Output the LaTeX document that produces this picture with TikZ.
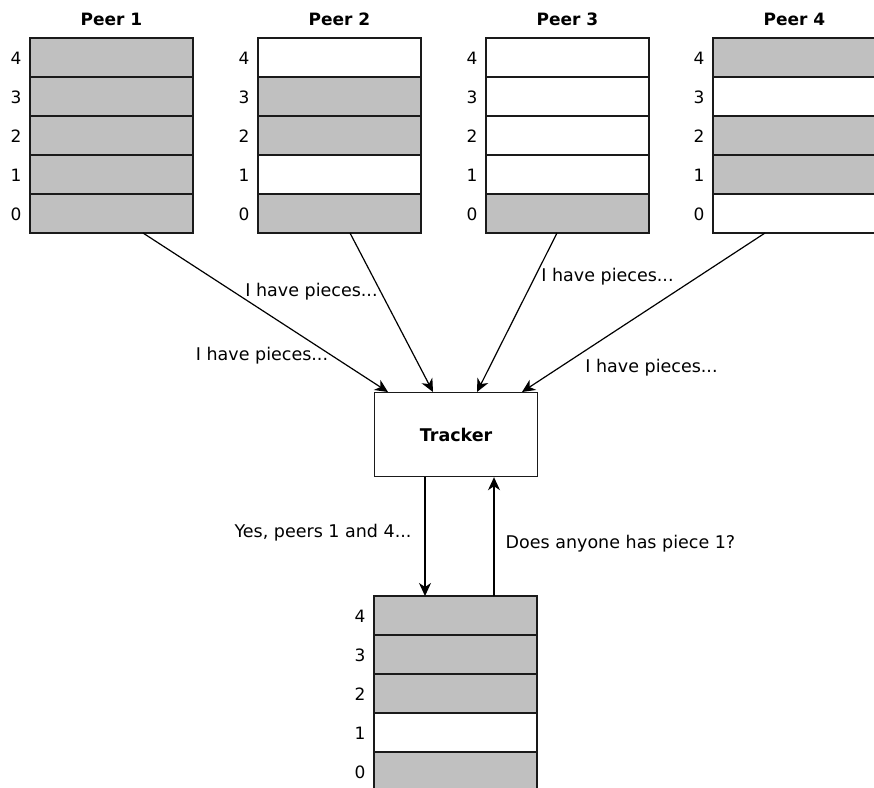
\documentclass[tikz,border=0pt]{standalone}
\usepackage{fontspec}
\setmainfont{DejaVu Sans}
\usetikzlibrary{arrows.meta}
\definecolor{piecegray}{HTML}{C0C0C0}
\definecolor{edgeblack}{HTML}{1A1A1A}

% one column of five pieces, 4 on top; #1 name, #2 left x, #3 top y, #4 index/style list
\newcommand\piececolumn[4]{%
  \foreach \k/\s in {#4} {
    \node[\s] (#1r\k) at (#2, {#3 + (4-\k)*39}) {};
    \node[idx] at ({#2-14}, {#3 + (4-\k)*39 + 20}) {\k};
  }%
}

\begin{document}
\begin{tikzpicture}[x=1pt, y=-1pt,
  cell/.style={draw=edgeblack, line width=1.2pt, minimum width=163pt,
    minimum height=39pt, inner sep=0pt, outer sep=0pt, anchor=north west},
  have/.style={cell, fill=piecegray},
  miss/.style={cell, fill=white},
  idx/.style={font=\fontsize{17}{20}\selectfont, anchor=center},
  title/.style={font=\fontsize{17}{20}\selectfont\bfseries, anchor=center},
  msg/.style={font=\fontsize{17.5}{21}\selectfont, anchor=center, inner sep=0pt},
  tracker/.style={draw=edgeblack, line width=1.2pt, fill=white, minimum width=163pt,
    minimum height=84pt, inner sep=0pt, anchor=north west,
    font=\fontsize{17.5}{21}\selectfont\bfseries},
  link/.style={draw=black, line width=1.2pt,
    -{Stealth[length=13pt, width=12pt, inset=4pt]}},
]
\useasboundingbox (0,0) rectangle (874,787);
\clip (0,0) rectangle (874,787);

% peers
\piececolumn{pa}{30}{38}{0/have,1/have,2/have,3/have,4/have}
\piececolumn{pb}{258}{38}{0/have,1/miss,2/have,3/have,4/miss}
\piececolumn{pc}{486}{38}{0/have,1/miss,2/miss,3/miss,4/miss}
\piececolumn{pd}{713}{38}{0/miss,1/have,2/have,3/miss,4/have}
\piececolumn{me}{374}{596}{0/have,1/miss,2/have,3/have,4/have}

\node[title] (ta) at (111.5, 19) {Peer 1};
\node[title] (tb) at (339.5, 19) {Peer 2};
\node[title] (tc) at (567.5, 19) {Peer 3};
\node[title] (td) at (794.5, 19) {Peer 4};

% tracker
\node[tracker] (trk) at (374, 392) {Tracker};

% announcements to the tracker
\draw[link] ([xshift=113pt]par0.south west) -- ([xshift=14pt]trk.north west);
\draw[link] ([xshift=92pt]pbr0.south west) -- ([xshift=59pt]trk.north west);
\draw[link] ([xshift=71pt]pcr0.south west) -- ([xshift=103pt]trk.north west);
\draw[link] ([xshift=52pt]pdr0.south west) -- ([xshift=148pt]trk.north west);

% query and answer
\draw[link] ([xshift=51pt]trk.south west) -- ([xshift=51pt]mer4.north west);
\draw[link] ([xshift=120pt]mer4.north west) -- ([xshift=120pt]trk.south west);

% message labels
\node[msg] (m1) at (311.5, 292) {I have pieces...};
\node[msg] (m2) at (262, 356) {I have pieces...};
\node[msg] (m3) at (607.5, 277) {I have pieces...};
\node[msg] (m4) at (651.5, 368) {I have pieces...};
\node[msg] (m5) at (323, 533) {Yes, peers 1 and 4...};
\node[msg] (m6) at (620.5, 544) {Does anyone has piece 1?};
\end{tikzpicture}
\end{document}
